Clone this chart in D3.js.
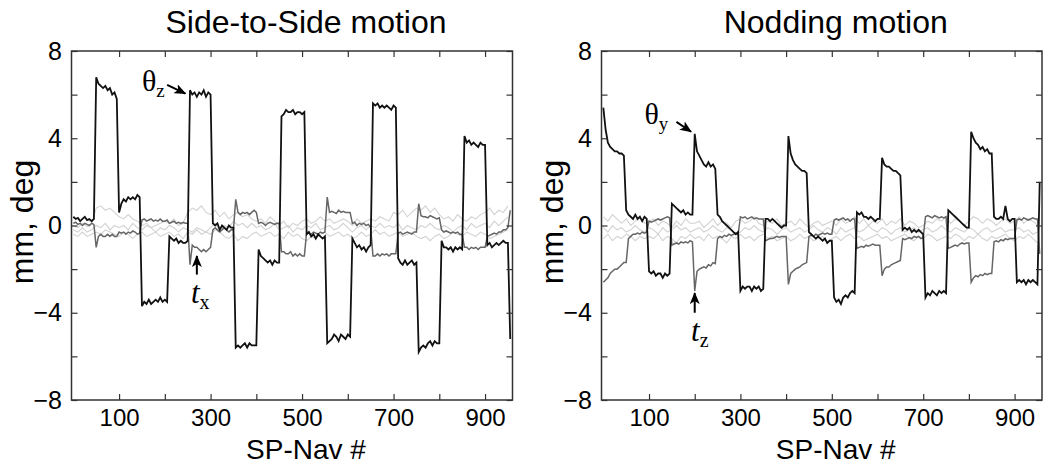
<!DOCTYPE html>
<html>
<head>
<meta charset="utf-8">
<script src="https://cdn.jsdelivr.net/npm/d3@7"></script>
<style>
  body{margin:0;background:#fff;}
  svg{display:block;font-family:"Liberation Sans",Arial,sans-serif;}
</style>
</head>
<body>
<svg id="viz-svg" width="1050" height="470"></svg>
<script>
// sample spacing (SP-Nav #) of the traces below
var step = 5
  , lightStep = 10;

var titles = ["Side-to-Side motion", "Nodding motion"];
var xLabel = "SP-Nav #"
  , yLabel = "mm, deg";
var xTicks = [100, 200, 300, 400, 500, 600, 700, 800, 900]
  , xTickLabels = [100, 300, 500, 700, 900];
var yTicks = [-8, -6, -4, -2, 0, 2, 4, 6, 8]
  , yTickLabels = [-8, -4, 0, 4, 8];

// Side-to-Side: theta_z (black) and t_x (dark grey), every 5 navs
var sideThetaZ = [
  0.4,0.3,0.35,0.2,0.3,0.4,0.25,0.3,0.2,0.3,
  6.8,6.5,6.4,6.3,6.4,6.2,6.3,6.0,6.1,5.8,
  0.6,1.0,1.2,1.1,1.3,1.2,1.3,1.2,1.4,1.3,
  -3.7,-3.5,-3.6,-3.4,-3.6,-3.5,-3.4,-3.5,-3.3,-3.5,
  -3.4,-3.5,-0.5,-0.6,-0.7,-0.6,-0.8,-0.7,-0.8,-0.8,
  -0.7,6.2,6.0,6.1,5.9,6.1,6.0,6.2,5.9,6.1,
  6.0,0.1,0.0,0.1,-0.2,0.0,-0.1,-0.2,0.0,-0.1,
  -0.1,-5.6,-5.5,-5.6,-5.5,-5.4,-5.6,-5.4,-5.5,-5.5,
  -5.5,-1.1,-1.4,-1.5,-1.6,-1.7,-1.6,-1.8,-1.6,-1.7,
  -1.7,5.0,5.1,5.3,5.2,5.2,5.3,5.1,5.2,5.2,
  5.1,5.2,-0.4,-0.3,-0.5,-0.4,-0.6,-0.4,-0.5,-0.6,
  -0.5,-5.4,-5.3,-5.2,-5.0,-5.1,-5.3,-5.0,-5.1,-5.2,
  -5.0,-5.1,-0.6,-0.8,-1.0,-0.9,-1.1,-1.0,-1.2,-1.0,
  -0.9,5.6,5.5,5.6,5.4,5.5,5.4,5.5,5.4,5.3,
  5.5,5.4,-1.5,-1.7,-1.8,-1.6,-1.8,-1.7,-1.6,-1.8,
  -1.7,-5.8,-5.6,-5.5,-5.6,-5.4,-5.3,-5.5,-5.3,-5.4,
  -5.4,-0.7,-1.0,-1.0,-1.1,-1.0,-1.2,-1.0,-1.1,-1.0,
  -1.1,4.1,3.8,3.9,3.7,3.8,3.7,3.6,3.8,3.7,
  3.7,-0.9,-0.8,-1.0,-0.9,-0.8,-0.9,-0.8,-0.7,-0.8,
  -0.8,-5.2
];
var sideTX = [
  0.1,0.15,0.05,0.1,0.0,0.1,0.05,0.0,0.1,0.05,
  -1.0,-0.5,-0.4,-0.5,-0.5,-0.4,-0.5,-0.4,-0.5,-0.5,
  -0.3,-0.35,-0.3,-0.4,-0.3,-0.35,-0.25,-0.3,-0.4,-0.35,
  0.25,0.3,0.2,0.25,0.3,0.2,0.25,0.2,0.3,0.2,
  0.2,0.25,0.1,0.15,0.2,0.1,0.15,0.1,0.15,0.1,
  0.1,-1.8,-0.9,-1.0,-1.0,-1.1,-1.2,-1.1,-1.2,-1.1,
  -1.0,-0.2,-0.1,-0.2,-0.3,-0.2,-0.1,-0.2,-0.3,-0.2,
  -0.2,1.2,0.6,0.5,0.6,0.55,0.6,0.5,0.6,0.7,
  0.6,0.1,0.15,0.1,0.0,0.1,0.15,0.1,0.05,0.1,
  0.1,-1.2,-1.2,-1.3,-1.3,-1.2,-1.4,-1.3,-1.4,-1.3,
  -1.4,-1.4,-0.3,-0.35,-0.4,-0.3,-0.35,-0.4,-0.3,-0.35,
  -0.3,1.3,0.6,0.65,0.6,0.55,0.7,0.6,0.65,0.6,
  0.6,0.6,0.1,0.15,0.0,0.1,0.05,0.1,0.0,0.05,
  -0.1,-1.4,-1.4,-1.3,-1.4,-1.3,-1.35,-1.3,-1.4,-1.3,
  -1.3,-1.3,-0.35,-0.3,-0.4,-0.35,-0.3,-0.35,-0.4,-0.3,
  -0.3,1.0,0.45,0.4,0.4,0.35,0.45,0.4,0.35,0.3,
  0.35,-0.2,-0.3,-0.25,-0.3,-0.35,-0.3,-0.35,-0.3,-0.4,
  -0.4,-1.0,-1.0,-1.1,-1.0,-1.05,-1.0,-1.1,-1.0,-1.0,
  -1.0,-0.5,-0.45,-0.4,-0.35,-0.4,-0.3,-0.3,-0.2,-0.2,
  -0.1,0.7
];
// the remaining parameters (light grey), every 10 navs
var sideOtherA = [
  0.0,-0.1,0.1,-0.05,0.05,0.8,0.9,0.7,0.8,0.6,
  0.4,0.3,0.5,0.3,0.2,0.0,0.1,-0.1,0.0,0.1,
  0.2,0.1,0.3,0.0,0.1,0.6,0.8,0.7,0.9,0.6,
  0.5,0.7,0.4,0.6,0.3,0.5,0.6,0.4,0.5,0.3,
  0.2,0.3,0.1,0.4,0.2,0.0,0.2,-0.1,0.1,0.0,
  0.2,0.3,0.1,0.2,0.4,0.2,0.3,0.1,0.2,0.3,
  0.2,0.0,0.3,0.1,0.2,0.3,0.2,0.4,0.3,0.2,
  0.6,0.5,0.7,0.4,0.6,0.8,0.7,0.9,0.6,0.8,
  0.5,0.3,0.4,0.2,0.5,0.3,0.2,0.4,0.3,0.5,
  0.6,0.8,0.5,0.7,0.6,0.9
];
var sideOtherB = [
  -0.2,-0.3,-0.1,-0.3,-0.2,0.0,-0.1,0.1,-0.2,0.0,
  -0.1,0.0,-0.2,0.1,-0.1,-0.2,0.0,-0.1,-0.3,-0.1,
  -0.2,0.0,-0.1,-0.3,-0.1,-0.2,-0.3,-0.1,-0.2,-0.3,
  -0.1,0.1,-0.2,0.0,-0.1,0.2,0.0,0.1,-0.1,0.1,
  -0.1,0.0,-0.2,-0.1,0.1,-0.2,-0.1,0.0,-0.3,-0.1,
  -0.2,0.0,-0.1,0.1,-0.2,-0.1,0.0,-0.2,-0.1,0.1,
  -0.1,-0.3,-0.1,0.0,-0.2,0.0,-0.1,0.1,-0.1,0.0,
  -0.1,0.1,-0.2,0.0,-0.1,-0.2,0.0,-0.1,0.1,-0.1,
  -0.2,0.0,-0.1,-0.3,-0.1,0.0,-0.2,0.1,-0.1,0.0,
  0.1,-0.1,0.2,0.0,0.2,0.4
];
var sideOtherC = [
  -0.4,-0.5,-0.3,-0.5,-0.4,-0.3,-0.4,-0.2,-0.3,-0.4,
  -0.5,-0.3,-0.4,-0.6,-0.4,-0.3,-0.5,-0.4,-0.3,-0.5,
  -0.4,-0.3,-0.5,-0.4,-0.6,-0.3,-0.4,-0.2,-0.4,-0.3,
  -0.4,-0.2,-0.3,-0.5,-0.6,-0.4,-0.7,-0.5,-0.6,-0.4,
  -0.3,-0.5,-0.4,-0.3,-0.5,-0.4,-0.6,-0.3,-0.5,-0.4,
  -0.6,-0.7,-0.5,-0.6,-0.4,-0.3,-0.5,-0.4,-0.3,-0.5,
  -0.4,-0.6,-0.5,-0.3,-0.5,-0.4,-0.2,-0.4,-0.3,-0.5,
  -0.4,-0.3,-0.5,-0.4,-0.3,-0.5,-0.6,-0.5,-0.7,-0.5,
  -0.4,-0.6,-0.5,-0.3,-0.4,-0.5,-0.3,-0.4,-0.5,-0.3,
  -0.4,-0.6,-0.5,-0.4,-0.3,-0.2
];

// Nodding: theta_y (black) and t_z (dark grey), every 5 navs
var nodThetaY = [
  5.4,4.4,3.8,3.6,3.5,3.4,3.4,3.3,3.3,3.2,
  0.7,0.5,0.4,0.3,0.5,0.3,0.4,0.2,0.4,0.3,
  -2.1,-2.2,-2.1,-2.3,-2.2,-2.2,-2.4,-2.2,-2.3,-2.2,
  1.0,0.9,0.8,0.7,0.6,0.7,0.5,0.6,0.5,0.5,
  4.2,3.4,3.2,3.0,2.8,2.7,2.9,2.7,2.8,2.6,
  0.5,0.4,0.2,0.1,0.0,-0.1,-0.2,-0.3,-0.4,-0.3,
  -3.0,-2.8,-2.9,-2.8,-2.8,-3.0,-2.8,-2.9,-2.8,-3.0,
  -2.9,0.3,0.3,0.2,0.3,0.2,0.1,0.0,-0.1,0.0,
  0.0,4.1,3.3,3.0,2.8,2.7,2.6,2.5,2.5,2.4,
  -0.3,-0.4,-0.5,-0.6,-0.5,-0.6,-0.7,-0.6,-0.8,-0.7,
  -0.7,-3.3,-3.5,-3.4,-3.6,-3.3,-3.2,-3.3,-3.1,-3.0,
  -3.1,0.6,0.5,0.6,0.4,0.4,0.3,0.4,0.3,0.2,
  0.3,0.3,3.1,2.8,2.7,2.7,2.6,2.5,2.5,2.4,
  2.3,-0.2,-0.1,-0.2,-0.1,-0.3,-0.2,-0.3,-0.2,-0.3,
  -0.4,-3.3,-3.1,-3.2,-3.0,-3.1,-3.2,-3.0,-3.1,-3.0,
  -3.1,0.7,0.6,0.5,0.4,0.3,0.2,0.1,0.0,-0.1,
  -0.1,4.3,4.0,3.8,3.7,3.5,3.6,3.4,3.5,3.3,
  3.3,0.4,0.3,0.3,0.4,0.3,0.9,0.3,0.2,0.3,
  0.3,-2.6,-2.5,-2.6,-2.5,-2.7,-2.5,-2.6,-2.5,-2.6,
  -2.7,2.0
];
var nodTZ = [
  -2.6,-2.5,-2.4,-2.2,-2.1,-2.0,-2.0,-1.9,-1.8,-1.7,
  -1.7,-0.6,-0.5,-0.4,-0.4,-0.35,-0.4,-0.3,-0.35,-0.3,
  0.2,0.15,0.2,0.25,0.3,0.25,0.3,0.35,0.4,0.35,
  -0.9,-0.85,-0.8,-0.85,-0.75,-0.8,-0.75,-0.8,-0.7,-0.75,
  -3.0,-2.1,-2.0,-1.95,-1.9,-1.95,-1.8,-1.85,-1.7,-1.75,
  -0.6,-0.5,-0.55,-0.45,-0.5,-0.4,-0.45,-0.4,-0.35,-0.4,
  0.4,0.35,0.4,0.3,0.35,0.4,0.3,0.35,0.3,0.3,
  0.3,-0.7,-0.65,-0.6,-0.6,-0.55,-0.5,-0.55,-0.5,-0.5,
  -0.5,-2.7,-2.2,-2.1,-2.0,-1.95,-1.9,-1.8,-1.75,-1.7,
  -0.5,-0.45,-0.5,-0.4,-0.45,-0.4,-0.35,-0.4,-0.35,-0.4,
  -0.4,0.25,0.3,0.25,0.3,0.35,0.25,0.3,0.2,0.3,
  0.3,-1.05,-1.0,-0.95,-1.0,-0.9,-0.95,-0.9,-0.85,-0.9,
  -0.9,-0.9,-2.3,-2.0,-1.9,-1.9,-1.8,-1.75,-1.7,-1.65,
  -1.6,-0.6,-0.65,-0.6,-0.55,-0.6,-0.5,-0.55,-0.5,-0.6,
  -0.55,0.4,0.45,0.4,0.35,0.45,0.4,0.35,0.4,0.35,
  0.4,-1.05,-1.0,-0.95,-0.9,-0.95,-0.85,-0.8,-0.85,-0.8,
  -0.8,-2.6,-2.4,-2.3,-2.35,-2.25,-2.3,-2.2,-2.25,-2.2,
  -2.2,-0.75,-0.7,-0.75,-0.65,-0.7,-0.6,-0.65,-0.6,-0.6,
  -0.6,0.25,0.3,0.25,0.35,0.3,0.25,0.3,0.35,0.3,
  0.3,-1.3
];
var nodOtherA = [
  0.4,0.2,0.5,0.3,0.1,0.3,0.0,0.2,0.4,0.1,
  0.2,0.3,0.0,0.2,0.1,-0.1,0.2,0.0,0.3,0.1,
  0.1,0.2,-0.1,0.1,0.3,0.0,0.2,0.1,-0.1,0.2,
  0.3,0.1,0.2,0.4,0.1,0.0,0.2,0.1,0.3,0.0,
  0.1,0.2,0.0,0.3,0.1,-0.1,0.1,0.2,0.0,0.1,
  0.2,0.0,0.3,0.1,0.2,0.4,0.1,0.3,0.0,0.2,
  0.1,0.3,0.0,0.2,0.1,0.3,0.0,0.2,0.1,-0.1,
  0.0,0.2,0.1,0.3,0.2,0.4,0.1,0.3,0.2,0.0,
  0.2,0.4,0.3,0.1,0.3,0.2,0.0,0.2,0.3,0.1,
  0.2,0.4,0.1,0.3,0.2,0.0
];
var nodOtherB = [
  -0.1,-0.3,0.0,-0.2,-0.1,-0.3,-0.2,0.0,-0.2,-0.3,
  -0.1,-0.2,-0.4,-0.1,-0.3,-0.2,0.0,-0.2,-0.1,-0.3,
  -0.2,-0.1,-0.3,-0.2,0.0,-0.2,-0.3,-0.1,-0.2,-0.4,
  -0.3,-0.1,-0.2,0.0,-0.2,-0.3,-0.1,-0.2,-0.4,-0.2,
  -0.1,-0.3,-0.2,-0.1,-0.3,-0.2,0.0,-0.2,-0.3,-0.1,
  -0.2,-0.4,-0.1,-0.3,-0.2,-0.1,-0.3,-0.2,0.0,-0.2,
  -0.3,-0.1,-0.2,-0.4,-0.2,-0.1,-0.3,-0.2,-0.1,-0.3,
  -0.2,-0.1,-0.3,-0.2,0.0,-0.2,-0.3,-0.1,-0.2,-0.3,
  -0.1,-0.2,-0.4,-0.2,-0.1,-0.3,-0.2,-0.1,-0.3,-0.2,
  -0.2,-0.1,-0.3,-0.2,-0.4,-0.3
];
var nodOtherC = [
  -0.6,-0.4,-0.7,-0.5,-0.6,-0.4,-0.5,-0.7,-0.5,-0.6,
  -0.5,-0.6,-0.4,-0.7,-0.5,-0.6,-0.8,-0.5,-0.6,-0.4,
  -0.6,-0.5,-0.7,-0.4,-0.6,-0.5,-0.6,-0.8,-0.5,-0.6,
  -0.4,-0.6,-0.5,-0.7,-0.5,-0.4,-0.6,-0.5,-0.7,-0.6,
  -0.5,-0.7,-0.6,-0.4,-0.6,-0.5,-0.7,-0.6,-0.5,-0.8,
  -0.6,-0.5,-0.7,-0.5,-0.4,-0.6,-0.5,-0.7,-0.6,-0.5,
  -0.4,-0.6,-0.5,-0.7,-0.6,-0.5,-0.4,-0.6,-0.7,-0.5,
  -0.6,-0.4,-0.5,-0.7,-0.6,-0.5,-0.6,-0.4,-0.5,-0.7,
  -0.5,-0.6,-0.4,-0.6,-0.7,-0.5,-0.6,-0.5,-0.4,-0.6,
  -0.7,-0.5,-0.6,-0.4,-0.6,-0.8
];

var panels = [
  { title: titles[0], left: 71.5, right: 512.5
  , light: [sideOtherA, sideOtherB, sideOtherC], grey: sideTX, black: sideThetaZ
  , rot: {sym: "θ", sub: "z", at: [150, 6.15], from: [205, 6.45], to: [245, 6.05]}
  , trans: {sub: "x", at: [257, -3.55], from: [270, -2.25], to: [270, -1.4]} }
, { title: titles[1], left: 601.5, right: 1042
  , light: [nodOtherA, nodOtherB, nodOtherC], grey: nodTZ, black: nodThetaY
  , rot: {sym: "θ", sub: "y", at: [90, 4.65], from: [160, 4.75], to: [192, 4.3]}
  , trans: {sub: "z", at: [192, -5.3], from: [200, -4.0], to: [200, -3.1]} }
];

// note: "top" is taken by window.top, so plot edges get their own names
var plotTop = 51, plotBottom = 400;
var svg = d3.select("#viz-svg");

svg.append("defs").append("marker")
    .attr("id", "arrow")
    .attr("viewBox", "0 0 12 10")
    .attr("refX", 11).attr("refY", 5)
    .attr("markerWidth", 12).attr("markerHeight", 10)
    .attr("markerUnits", "userSpaceOnUse")
    .attr("orient", "auto")
  .append("path")
    .attr("d", "M0,0L12,5L0,10L3,5z")
    .attr("fill", "#000");

panels.forEach(function(p, k){
  var x = d3.scaleLinear().domain([-4, 960]).range([p.left, p.right])
    , y = d3.scaleLinear().domain([-8, 8]).range([plotBottom, plotTop])
    , mid = (p.left + p.right) / 2 + 14
    , g = svg.append("g").attr("class", "panel");

  g.append("clipPath").attr("id", "clip" + k)
    .append("rect")
      .attr("x", p.left).attr("y", plotTop)
      .attr("width", p.right - p.left).attr("height", plotBottom - plotTop);

  function line(s){
    return d3.line()
      .x(function(d, i){ return x(i * s); })
      .y(function(d){ return y(d); });
  }

  var plot = g.append("g").attr("clip-path", "url(#clip" + k + ")");

  p.light.forEach(function(arr){
    plot.append("path")
      .attr("d", line(lightStep)(arr))
      .attr("fill", "none")
      .attr("stroke", "#d2d2d2")
      .attr("stroke-width", 1.1);
  });
  plot.append("path")
    .attr("d", line(step)(p.grey))
    .attr("fill", "none")
    .attr("stroke", "#666")
    .attr("stroke-width", 1.5);
  plot.append("path")
    .attr("d", line(step)(p.black))
    .attr("fill", "none")
    .attr("stroke", "#111")
    .attr("stroke-width", 1.8);

  // axes, ticks pointing inwards on all four sides
  function fmtX(d){ return xTickLabels.indexOf(d) >= 0 ? d : ""; }
  function fmtY(d){ return yTickLabels.indexOf(d) >= 0 ? d3.format("")(d) : ""; }

  var axes = [
    {a: d3.axisBottom(x).tickValues(xTicks).tickFormat(fmtX).tickPadding(9), t: "translate(0," + plotBottom + ")"}
  , {a: d3.axisTop(x).tickValues(xTicks).tickFormat(""), t: "translate(0," + plotTop + ")"}
  , {a: d3.axisLeft(y).tickValues(yTicks).tickFormat(fmtY).tickPadding(9.5), t: "translate(" + p.left + ",0)"}
  , {a: d3.axisRight(y).tickValues(yTicks).tickFormat(""), t: "translate(" + p.right + ",0)"}
  ];
  axes.forEach(function(ax, j){
    var ag = g.append("g")
      .attr("transform", ax.t)
      .call(ax.a.tickSizeInner(-6).tickSizeOuter(0));
    ag.attr("font-family", null).attr("font-size", j == 0 ? 24 : 25);
    ag.select(".domain").remove();
    ag.selectAll(".tick line").attr("stroke", "#333").attr("stroke-width", 1.2);
    ag.selectAll(".tick text").attr("fill", "#000");
  });

  g.append("rect")
    .attr("x", p.left).attr("y", plotTop)
    .attr("width", p.right - p.left).attr("height", plotBottom - plotTop)
    .attr("fill", "none")
    .attr("stroke", "#333")
    .attr("stroke-width", 1.5);

  g.append("text")
    .attr("x", mid).attr("y", 33)
    .attr("text-anchor", "middle")
    .attr("font-size", 32)
    .text(p.title);

  g.append("text")
    .attr("x", mid).attr("y", 459)
    .attr("text-anchor", "middle")
    .attr("font-size", 28)
    .text(xLabel);

  g.append("text")
    .attr("transform", "translate(" + (p.left - 38.5) + "," + 222 + ")rotate(-90)")
    .attr("text-anchor", "middle")
    .attr("font-size", 32)
    .text(yLabel);

  // annotations
  var r = p.rot, t = p.trans;
  var rt = g.append("text")
    .attr("x", x(r.at[0])).attr("y", y(r.at[1]))
    .attr("font-family", "'Liberation Serif','Times New Roman',serif")
    .attr("font-size", 30);
  rt.append("tspan").text(r.sym);
  rt.append("tspan").attr("font-size", 19).attr("dy", 6).text(r.sub);
  g.append("line")
    .attr("x1", x(r.from[0])).attr("y1", y(r.from[1]))
    .attr("x2", x(r.to[0])).attr("y2", y(r.to[1]))
    .attr("stroke", "#000").attr("stroke-width", 2)
    .attr("marker-end", "url(#arrow)");

  var tt = g.append("text")
    .attr("x", x(t.at[0])).attr("y", y(t.at[1]))
    .attr("font-family", "'Liberation Serif','Times New Roman',serif")
    .attr("font-size", 31);
  tt.append("tspan").attr("font-style", "italic").text("t");
  tt.append("tspan").attr("font-size", 20).attr("dy", 6).text(t.sub);
  g.append("line")
    .attr("x1", x(t.from[0])).attr("y1", y(t.from[1]))
    .attr("x2", x(t.to[0])).attr("y2", y(t.to[1]))
    .attr("stroke", "#000").attr("stroke-width", 2)
    .attr("marker-end", "url(#arrow)");
});
</script>
</body>
</html>
